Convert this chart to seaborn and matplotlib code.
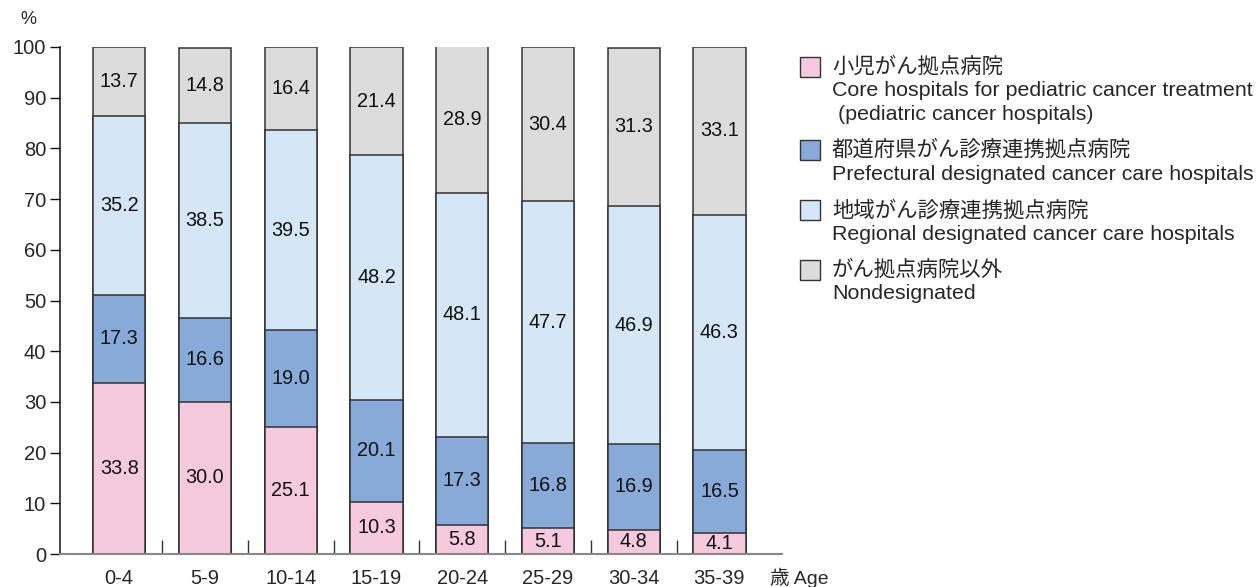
import matplotlib
matplotlib.use("Agg")
import matplotlib.pyplot as plt
import seaborn as sns
import numpy as np
import pandas as pd
from matplotlib.patches import Rectangle

ages = ["0-4", "5-9", "10-14", "15-19", "20-24", "25-29", "30-34", "35-39"]
pediatric = [33.8, 30.0, 25.1, 10.3, 5.8, 5.1, 4.8, 4.1]
prefectural = [17.3, 16.6, 19.0, 20.1, 17.3, 16.8, 16.9, 16.5]
regional = [35.2, 38.5, 39.5, 48.2, 48.1, 47.7, 46.9, 46.3]
nondesignated = [13.7, 14.8, 16.4, 21.4, 28.9, 30.4, 31.3, 33.1]

series_names = ["pediatric", "prefectural", "regional", "nondesignated"]
colors = ["#F5C9DE", "#88AAD8", "#D5E6F6", "#DCDCDC"]
legend_jp = ["小児がん拠点病院", "都道府県がん診療連携拠点病院", "地域がん診療連携拠点病院", "がん拠点病院以外"]
legend_en = [["Core hospitals for pediatric cancer treatment", " (pediatric cancer hospitals)"],
             ["Prefectural designated cancer care hospitals"],
             ["Regional designated cancer care hospitals"],
             ["Nondesignated"]]

sns.set_theme(style="white")
plt.rcParams['font.family'] = ['Liberation Sans', 'Noto Sans CJK JP', 'DejaVu Sans']

fig = plt.figure(figsize=(12.59, 5.87), dpi=100)
ax = fig.add_axes([60/1259, 1-554/587, (782-60)/1259, (554-47)/587])

values = np.array([pediatric, prefectural, regional, nondesignated])
cum = np.cumsum(values, axis=0)
df = pd.DataFrame({"age": ages})
for i, name in enumerate(series_names):
    df[name] = cum[i]

for i in range(3, -1, -1):
    sns.barplot(data=df, x="age", y=series_names[i], color=colors[i], width=0.61,
                edgecolor="#333333", linewidth=1.1, saturation=1, ax=ax, zorder=2)

fs_num = 14.3
fs_tick = 14.5
fs_leg = 15.4
for j in range(len(ages)):
    bottom = 0
    for i in range(4):
        v = values[i][j]
        ax.text(j, bottom + v/2, f"{v:.1f}", ha="center", va="center", fontsize=fs_num, color="#111111", zorder=5)
        bottom += v

ax.set_xlim(-0.69, 7.73)
ax.set_ylim(0, 100)
ax.set_yticks(range(0, 101, 10))
ax.set_ylabel("")
ax.set_xlabel("")
for s in ["top", "right"]:
    ax.spines[s].set_visible(False)
ax.spines["left"].set_color("#111111")
ax.spines["left"].set_linewidth(1.1)
ax.spines["bottom"].set_color("#888888")
ax.spines["bottom"].set_linewidth(1.5)
ax.tick_params(axis="y", direction="out", length=7, width=1, color="#111111", labelsize=fs_tick, pad=3, left=True)
ax.tick_params(axis="x", which="major", length=0, labelsize=fs_tick, pad=11)
ax.set_xticks(np.arange(0.5, 7, 1), minor=True)
ax.tick_params(axis="x", which="minor", direction="in", length=10, width=1, color="#333333", bottom=True)
ax.grid(False)

fig.text(28/1259, 1-20/587, "%", ha="center", va="center", fontsize=13)
fig.text(770/1259, 1-578/587, "歳 Age", ha="left", va="center", fontsize=14)

# legend
ys_jp = [67, 150, 210, 270]
ys_en = [[91, 115], [174], [235], [294]]
for k in range(4):
    y = ys_jp[k]
    fig.patches.append(Rectangle((800/1259, 1-(y+10)/587), 20/1259, 20/587, transform=fig.transFigure,
                                 facecolor=colors[k], edgecolor="#333333", linewidth=1.0))
    fig.text(832/1259, 1-y/587, legend_jp[k], ha="left", va="center", fontsize=fs_leg)
    for line, ly in zip(legend_en[k], ys_en[k]):
        fig.text(832/1259, 1-ly/587, line, ha="left", va="center", fontsize=fs_leg)

fig.savefig("out.png", dpi=100)
